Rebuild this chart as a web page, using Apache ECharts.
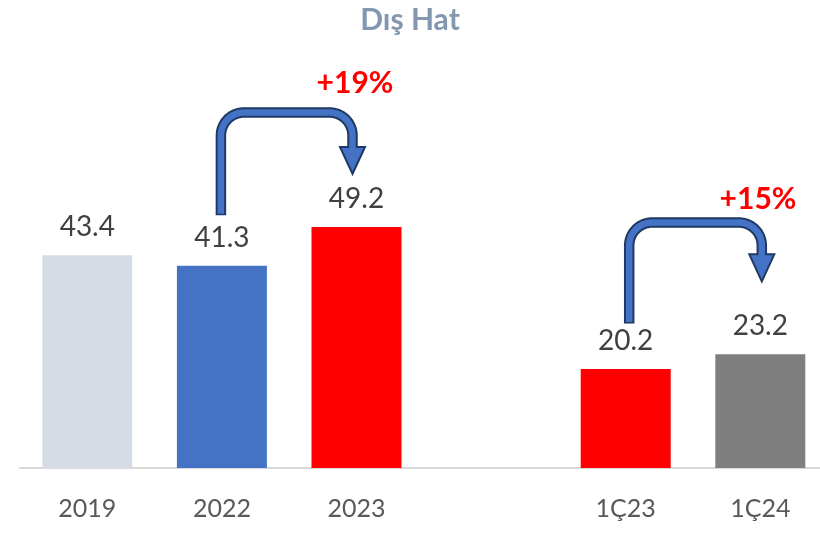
<!DOCTYPE html>
<html>
<head>
<meta charset="utf-8">
<script src="https://cdn.jsdelivr.net/npm/echarts@6/dist/echarts.min.js"></script>
<style>html,body{margin:0;padding:0;background:#fff}#c{width:820px;height:533px}</style>
</head>
<body>
<div id="c"></div>
<script>
const titleText = 'Dış Hat';
const categories = ['2019', '2022', '2023', '', '1Ç23', '1Ç24'];
const values = [43.4, 41.3, 49.2, null, 20.2, 23.2];
const barColors = ['#D6DCE5', '#4472C4', '#FF0000', '#FFFFFF', '#FF0000', '#7F7F7F'];
const changeLabels = ['+19%', '+15%'];
const changePairs = [[1, 2], [4, 5]];

const chart = echarts.init(document.getElementById('c'), null, {renderer: 'canvas'});
const FONT = 'Lato, "Open Sans", sans-serif';

const option = {
  animation: false,
  backgroundColor: '#ffffff',
  title: {
    text: titleText, left: 'center', top: 0,
    textStyle: {fontFamily: FONT, fontWeight: 'bold', fontSize: 30, color: '#8497B0'}
  },
  grid: {left: 20, width: 807.6, top: 174, bottom: 65, containLabel: false, outerBoundsMode: 'none'},
  xAxis: {
    type: 'category', data: categories,
    axisTick: {show: false},
    axisLine: {lineStyle: {color: '#D9D9D9', width: 2}},
    axisLabel: {fontFamily: FONT, fontSize: 25, color: '#595959', margin: 28, interval: 0}
  },
  yAxis: {type: 'value', min: 0, max: 60, show: false, splitLine: {show: false}},
  series: [{
    type: 'bar', barWidth: 90,
    data: values.map((v, i) => ({value: v, itemStyle: {color: barColors[i]}})),
    label: {
      show: true, position: 'top', distance: 14,
      fontFamily: FONT, fontSize: 28, color: '#404040',
      formatter: p => (p.value == null ? '' : p.value.toFixed(1))
    }
  }]
};
chart.setOption(option);

function px(i, v) { return chart.convertToPixel({gridIndex: 0}, [i, v]); }

function arcPts(cx, cy, r, a0, a1, n) {
  const pts = [];
  for (let i = 0; i <= n; i++) {
    const a = a0 + (a1 - a0) * i / n;
    pts.push([cx + r * Math.cos(a), cy + r * Math.sin(a)]);
  }
  return pts;
}

function arrowGraphics(x1, yb, x2, yt, tip, r) {
  const head = 27, hw = 12.5;
  const base = tip - head;
  const pts = (yStart, yEnd) => [
    [x1, yStart],
    ...arcPts(x1 + r, yt + r, r, Math.PI, Math.PI * 1.5, 16),
    ...arcPts(x2 - r, yt + r, r, Math.PI * 1.5, Math.PI * 2, 16),
    [x2, yEnd]
  ];
  return [
    {type: 'polyline', z: 10, shape: {points: pts(yb + 1.5, base)},
      style: {fill: null, stroke: '#1F3864', lineWidth: 10.5, lineCap: 'butt', lineJoin: 'round'}},
    {type: 'polygon', z: 11, shape: {points: [[x2 - hw, base], [x2 + hw, base], [x2, tip]]},
      style: {fill: '#4472C4', stroke: '#1F3864', lineWidth: 2, lineJoin: 'miter'}},
    {type: 'polyline', z: 12, shape: {points: pts(yb, base + 2.5)},
      style: {fill: null, stroke: '#4472C4', lineWidth: 6.5, lineCap: 'butt', lineJoin: 'round'}}
  ];
}

const g = [];
{
  const [a, b] = changePairs[0];
  const pa = px(a, values[a]), pb = px(b, values[b]);
  g.push(...arrowGraphics(pa[0] - 1, pa[1] - 52, pb[0] - 4, 112.5, pb[1] - 53, 23));
  g.push({type: 'text', z: 20, style: {text: changeLabels[0], x: 355, y: 83, align: 'center', verticalAlign: 'middle',
    font: 'bold 30px ' + FONT, fill: '#FF0000'}});
}
{
  const [a, b] = changePairs[1];
  const pa = px(a, values[a]), pb = px(b, values[b]);
  g.push(...arrowGraphics(pa[0] + 3.5, pa[1] - 47, pb[0] + 1.5, 222.5, pb[1] - 73, 23));
  g.push({type: 'text', z: 20, style: {text: changeLabels[1], x: 758, y: 199, align: 'center', verticalAlign: 'middle',
    font: 'bold 30px ' + FONT, fill: '#FF0000'}});
}
chart.setOption({graphic: {elements: g}});
</script>
</body>
</html>
